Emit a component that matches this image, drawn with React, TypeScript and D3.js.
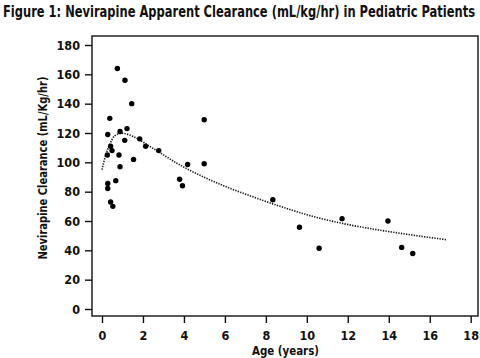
import React, { useEffect, useRef } from 'react';
import * as d3 from 'd3';

// observed clearance per patient (age in years, mL/kg/hr)
const ages = [
  0.75, 1.12, 1.45, 0.38, 4.99, 1.22, 0.28, 0.88, 1.11, 1.84, 2.13, 2.77,
  0.42, 0.49, 0.26, 0.83, 1.54, 4.18, 4.99, 0.88, 3.79, 3.93, 0.67, 0.28,
  0.28, 0.42, 0.53, 8.34, 9.64, 10.6, 11.72, 13.96, 14.63, 15.17,
];
const clearances = [
  164, 156, 140, 130, 129, 123, 119, 121, 115, 116, 111, 108,
  111, 108, 105, 105, 102, 98.5, 99, 97, 88.5, 84, 87.5, 85.6,
  82.2, 73, 70, 74.5, 55.7, 41.4, 61.6, 60, 42, 37.8,
];

// fitted population curve
const curveAges = [0, 0.15, 0.39, 0.63, 0.96, 1.62, 2.27, 2.92, 3.58, 4.23, 5.04, 5.94, 7.07, 8.7, 10.33, 11.96, 13.59, 15.21, 16.8];
const curveValues = [95, 103.5, 112.6, 118.2, 119.8, 117, 111.4, 105.8, 100, 95, 89.5, 84, 78, 70, 63, 57.7, 53.7, 50.3, 47.3];

const xTicks = [0, 2, 4, 6, 8, 10, 12, 14, 16, 18];
const yTicks = [0, 20, 40, 60, 80, 100, 120, 140, 160, 180];

const App: React.FC = () => {
  const svgRef = useRef(null);

  useEffect(() => {
    const font = "'Liberation Sans Narrow', 'DejaVu Sans Condensed', 'Arial Narrow', sans-serif";
    const box = { left: 92, right: 478, top: 36, bottom: 316 };

    const svg = d3.select(svgRef.current);
    svg.selectAll('*').remove();

    const x = d3.scaleLinear().domain([0, 18]).range([102, 470.7]);
    const y = d3.scaleLinear().domain([0, 180]).range([309, 45]);

    // frame
    svg.append('rect')
      .attr('x', box.left)
      .attr('y', box.top)
      .attr('width', box.right - box.left)
      .attr('height', box.bottom - box.top)
      .attr('fill', 'none')
      .attr('stroke', '#111')
      .attr('stroke-width', 1.4);

    const xAxis = svg.append('g')
      .attr('transform', `translate(0,${box.bottom})`)
      .call(d3.axisBottom(x).tickValues(xTicks).tickSize(7).tickPadding(8).tickFormat(d3.format('d')) as any);
    xAxis.select('.domain').remove();

    const yAxis = svg.append('g')
      .attr('transform', `translate(${box.left},0)`)
      .call(d3.axisLeft(y).tickValues(yTicks).tickSize(7).tickPadding(5).tickFormat(d3.format('d')) as any);
    yAxis.select('.domain').remove();

    svg.selectAll('.tick line').attr('stroke', '#111').attr('stroke-width', 1.4);
    svg.selectAll('.tick text')
      .attr('fill', '#111')
      .style('font-family', font)
      .style('font-weight', 'bold')
      .style('font-size', '12.5px');

    // dotted fit
    const line = d3.line<number>()
      .x((d, i) => x(curveAges[i]))
      .y(d => y(d))
      .curve(d3.curveMonotoneX);

    svg.append('path')
      .datum(curveValues)
      .attr('d', line)
      .attr('fill', 'none')
      .attr('stroke', '#111')
      .attr('stroke-width', 1.6)
      .attr('stroke-dasharray', '1.3,1.3');

    svg.selectAll('circle.pt')
      .data(clearances)
      .enter().append('circle')
      .attr('class', 'pt')
      .attr('cx', (d, i) => x(ages[i]))
      .attr('cy', d => y(d))
      .attr('r', 2.7)
      .attr('fill', '#000');

    svg.append('text')
      .attr('x', 3)
      .attr('y', 17)
      .attr('textLength', 472)
      .attr('lengthAdjust', 'spacingAndGlyphs')
      .style('font-family', font)
      .style('font-weight', 'bold')
      .style('font-size', '16px')
      .attr('fill', '#111')
      .text('Figure 1: Nevirapine Apparent Clearance (mL/kg/hr) in Pediatric Patients');

    svg.append('text')
      .attr('x', 285.5)
      .attr('y', 355)
      .attr('text-anchor', 'middle')
      .attr('textLength', 67)
      .attr('lengthAdjust', 'spacingAndGlyphs')
      .style('font-family', font)
      .style('font-weight', 'bold')
      .style('font-size', '12px')
      .attr('fill', '#111')
      .text('Age (years)');

    svg.append('text')
      .attr('transform', 'translate(47,168) rotate(-90)')
      .attr('text-anchor', 'middle')
      .attr('textLength', 183)
      .attr('lengthAdjust', 'spacingAndGlyphs')
      .style('font-family', font)
      .style('font-weight', 'bold')
      .style('font-size', '13px')
      .attr('fill', '#111')
      .text('Nevirapine Clearance (mL/Kg/hr)');
  }, []);

  return (
    <svg ref={svgRef} width={480} height={358}
      style={{ position: 'absolute', left: 0, top: 0, background: '#fff' }} />
  );
};

export default App;
